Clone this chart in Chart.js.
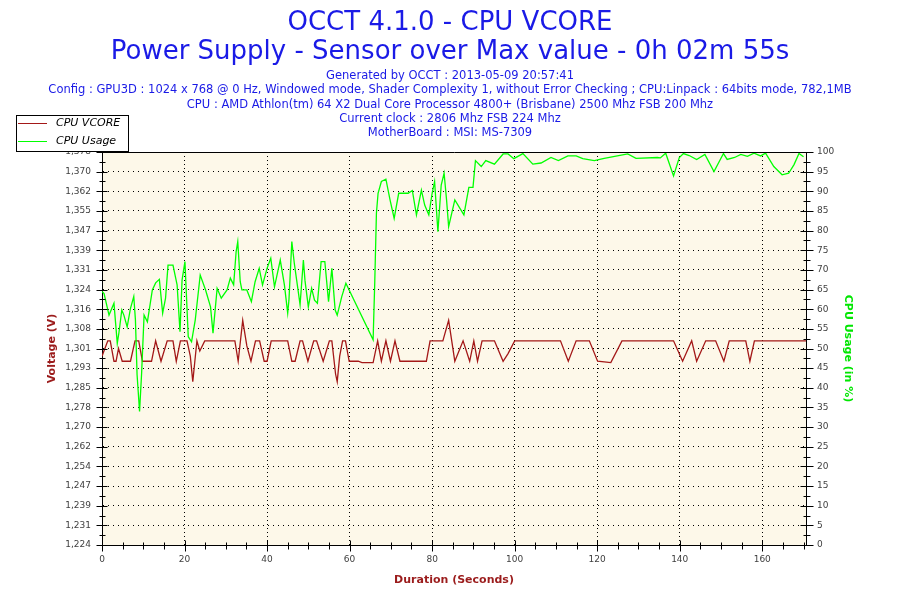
<!DOCTYPE html>
<html>
<head>
<meta charset="UTF-8">
<title>OCCT 4.1.0 - CPU VCORE</title>
<script src="https://cdn.jsdelivr.net/npm/chart.js@4.4.1/dist/chart.umd.min.js"></script>
<style>
  html, body { margin: 0; padding: 0; background: #ffffff; }
  #wrap { width: 900px; height: 600px; }
</style>
</head>
<body>
<div id="wrap"><canvas id="occtChart" width="900" height="600"></canvas></div>
<script>
// Textos do cabecalho
const titleLines = [
  'OCCT 4.1.0 - CPU VCORE',
  'Power Supply - Sensor over Max value - 0h 02m 55s'
];
const infoLines = [
  'Generated by OCCT : 2013-05-09 20:57:41',
  'Config : GPU3D : 1024 x 768 @ 0 Hz, Windowed mode, Shader Complexity 1, without Error Checking ; CPU:Linpack : 64bits mode, 782,1MB',
  'CPU : AMD Athlon(tm) 64 X2 Dual Core Processor 4800+ (Brisbane) 2500 Mhz FSB 200 Mhz',
  'Current clock : 2806 Mhz FSB 224 Mhz',
  'MotherBoard : MSI: MS-7309'
];

// Eixos
const voltLabels = ['1,224', '1,231', '1,239', '1,247', '1,254', '1,262', '1,270', '1,278', '1,285', '1,293',
  '1,301', '1,308', '1,316', '1,324', '1,331', '1,339', '1,347', '1,355', '1,362', '1,370', '1,378'];
const voltMin = 1.224;
const voltMax = 1.378;
const timeTicks = [0, 20, 40, 60, 80, 100, 120, 140, 160];
const timeMax = 170.6;

// Serie CPU VCORE (segundos / volts)
const vcoreTime = [0, 1.4, 2, 2.9, 3.4, 4, 4.9, 6.9, 8, 8.9, 9.8, 12, 13, 14.3, 15.8, 17.2, 18, 19, 20.6, 21.4,
  22, 22.5, 23, 23.7, 24.9, 32.2, 33, 34.1, 35.1, 36.1, 37.2, 38.2, 39.3, 40, 41, 45, 46, 46.8, 48, 48.6,
  49.9, 51.3, 52, 53.6, 55.1, 55.7, 56.6, 57, 57.6, 58.3, 59, 59.9, 62.1, 63, 65.7, 66.8, 67.7, 68.8, 69.9, 71,
  72.2, 78.6, 79.5, 82.6, 84, 85.5, 87.5, 89.1, 90.1, 91, 92.1, 95.1, 97.2, 98.4, 100, 111.1, 113, 114.9, 118.1, 120.1,
  123.3, 126, 138.5, 140.7, 142.9, 144.1, 146.3, 148.7, 150.7, 152, 156, 157, 158.1, 170.6];
const vcoreVolts = [1.298, 1.304, 1.304, 1.296, 1.296, 1.301, 1.296, 1.296, 1.304, 1.304, 1.296, 1.296, 1.304, 1.296, 1.304, 1.304, 1.296, 1.304, 1.304, 1.298,
  1.288, 1.296, 1.304, 1.300, 1.304, 1.304, 1.296, 1.312, 1.302, 1.296, 1.304, 1.304, 1.296, 1.296, 1.304, 1.304, 1.296, 1.296, 1.304, 1.304,
  1.296, 1.304, 1.304, 1.296, 1.304, 1.304, 1.291, 1.288, 1.298, 1.304, 1.304, 1.296, 1.296, 1.2955, 1.2955, 1.304, 1.296, 1.304, 1.296, 1.304,
  1.296, 1.296, 1.304, 1.304, 1.312, 1.296, 1.304, 1.296, 1.304, 1.296, 1.304, 1.304, 1.296, 1.299, 1.304, 1.304, 1.296, 1.304, 1.304, 1.296,
  1.2955, 1.304, 1.304, 1.296, 1.304, 1.296, 1.304, 1.304, 1.296, 1.304, 1.304, 1.296, 1.304, 1.304];

// Serie CPU Usage (segundos / %)
const usageTime = [0, 0.5, 1.7, 2.9, 3.7, 4.1, 4.8, 5.3, 6.1, 6.9, 7.7, 8.1, 8.5, 9.1, 9.6, 10.2, 11, 12.2, 13, 13.9,
  14.7, 15.4, 16, 17.2, 18.2, 18.9, 19.4, 20.1, 20.9, 21.7, 22.6, 23.8, 25.1, 26.3, 26.9, 27.9, 28.9, 30.3, 31.1, 31.9,
  32.5, 32.9, 33.5, 33.9, 35.1, 36.2, 37.1, 38.1, 38.9, 40, 40.9, 41.8, 43.2, 44.2, 45, 45.3, 46, 46.6, 47.4, 48,
  48.8, 49.2, 50, 50.8, 51.5, 52.2, 53.1, 54, 54.9, 55.7, 56.5, 57, 58.1, 59.1, 65.7, 66.1, 66.5, 66.9, 67.7, 68.8,
  69.8, 70.8, 71.9, 74.2, 75.2, 76.2, 77.4, 78.2, 79.2, 80, 80.6, 81.4, 82.2, 82.9, 83.5, 84, 85.5, 87.7, 88.9, 89.9,
  90.5, 91.9, 93, 95.1, 97.2, 98.4, 99.8, 102, 104.4, 106.4, 108.8, 110.6, 112.9, 114.9, 116.5, 119.3, 121.7, 127.4, 129.4, 134.6,
  135.3, 136.6, 138.5, 139.9, 140.9, 142.3, 144.1, 146.1, 148.3, 150.6, 151.5, 153.3, 154.8, 156.4, 158, 159.6, 160.8, 162.8, 164.8, 166.4,
  167.7, 168.9, 170];
const usagePct = [64.5, 64, 58.5, 61.5, 51.3, 54, 59.8, 58.5, 55.5, 60.2, 63.2, 57.3, 43.3, 34, 43.7, 58.5, 56.8, 64.9, 66.7, 67.6,
  59, 62.8, 71.2, 71.2, 66.2, 54.3, 67.4, 72.1, 53, 51.7, 57.3, 68.7, 64.9, 60.6, 53.9, 65.3, 62.8, 64.9, 67.9, 66.2,
  74.6, 77.2, 67, 64.9, 64.9, 61.9, 67, 70.4, 66.2, 70.4, 73, 65.7, 72.5, 66.2, 59, 62.3, 77.2, 71.7, 65.7, 61.1,
  72.5, 67.2, 60.6, 65.3, 62.3, 61.5, 72.1, 72.1, 61.9, 70.4, 59.8, 58.5, 63.2, 66.6, 52.2, 67, 84.4, 89.5, 92.5, 93.1,
  87.8, 83.1, 89.5, 89.5, 90.2, 84, 90.3, 86.5, 84, 89.5, 92.5, 79.7, 91.6, 94.6, 87.8, 81, 87.8, 84, 91, 91,
  97.8, 96.3, 97.8, 96.9, 99.5, 99.5, 98.3, 99.6, 96.9, 97.2, 98.6, 97.8, 99, 99, 98.3, 97.8, 98.4, 99.5, 98.4, 98.6,
  98.5, 99.7, 93.9, 98.6, 99.6, 99.1, 98.1, 99.4, 95, 99.6, 98.1, 98.6, 99.4, 98.9, 99.7, 99, 99.7, 96.3, 94.2, 94.6,
  96.8, 99.6, 98.8];

const fontFamily = "'DejaVu Sans', sans-serif";
const titleBlue = '#1a1ae6';
const axisRed = '#9b1c1c';
const vcoreColor = '#a31818';
const usageColor = '#00ff00';
const tickColor = '#404040';

Chart.defaults.font.family = fontFamily;

const voltStep = (voltMax - voltMin) / (voltLabels.length - 1);

// Fundo creme da area do grafico
const plotBackground = {
  id: 'plotBackground',
  beforeDraw(chart) {
    const { ctx, chartArea: a } = chart;
    ctx.save();
    ctx.fillStyle = '#ffffff';
    ctx.fillRect(0, 0, chart.width, chart.height);
    ctx.fillStyle = '#fdf8e9';
    ctx.fillRect(a.left, a.top, a.right - a.left, a.bottom - a.top);
    ctx.restore();
  }
};

// Borda superior e marcas (maiores e menores) nos eixos
const axisMarks = {
  id: 'axisMarks',
  afterDatasetsDraw(chart) {
    const { ctx, chartArea: a, scales } = chart;
    const px = v => Math.round(v) + 0.5;
    ctx.save();
    ctx.strokeStyle = '#000';
    ctx.lineWidth = 1;
    ctx.beginPath();
    ctx.moveTo(a.left, px(a.top));
    ctx.lineTo(a.right + 1, px(a.top));

    const xl = px(a.left);
    for (let i = 0; i < voltLabels.length; i++) {
      const y = px(scales.yV.getPixelForValue(voltMin + i * voltStep));
      ctx.moveTo(xl - 6, y); ctx.lineTo(xl + 5, y);
      if (i < voltLabels.length - 1) {
        const ym = px(scales.yV.getPixelForValue(voltMin + (i + 0.5) * voltStep));
        ctx.moveTo(xl - 3, ym); ctx.lineTo(xl + 3, ym);
      }
    }

    const xr = px(a.right);
    for (let v = 0; v <= 100; v += 2.5) {
      const y = px(scales.yP.getPixelForValue(v));
      const len = v % 5 === 0 ? 6 : 3;
      ctx.moveTo(xr - len, y); ctx.lineTo(xr + len + 1, y);
    }

    const yb = px(a.bottom);
    for (let t = 0; t <= timeMax; t += 5) {
      const x = px(scales.x.getPixelForValue(t));
      const len = t % 20 === 0 ? 5 : 3;
      ctx.moveTo(x, yb - len); ctx.lineTo(x, yb + len + 1);
    }
    ctx.stroke();
    ctx.restore();
  }
};

// Legenda em caixa no canto superior esquerdo
const boxLegend = {
  id: 'boxLegend',
  afterDraw(chart) {
    const ctx = chart.ctx;
    ctx.save();
    ctx.fillStyle = '#ffffff';
    ctx.fillRect(16, 115, 113, 37);
    ctx.strokeStyle = '#000';
    ctx.lineWidth = 1;
    ctx.strokeRect(16.5, 115.5, 112, 36);
    ctx.font = 'italic 11px ' + fontFamily;
    ctx.textBaseline = 'middle';
    chart.data.datasets.forEach((ds, i) => {
      const y = 123.5 + i * 18;
      ctx.strokeStyle = ds.borderColor;
      ctx.beginPath();
      ctx.moveTo(18, y);
      ctx.lineTo(47, y);
      ctx.stroke();
      ctx.fillStyle = '#000';
      ctx.fillText(ds.label, 56, y);
    });
    ctx.restore();
  }
};

const ctx = document.getElementById('occtChart').getContext('2d');
new Chart(ctx, {
  type: 'line',
  data: {
    datasets: [{
      label: 'CPU VCORE',
      data: vcoreTime.map((t, i) => ({ x: t, y: vcoreVolts[i] })),
      yAxisID: 'yV',
      borderColor: vcoreColor,
      borderWidth: 1.3,
      pointRadius: 0,
      tension: 0,
      fill: false,
      order: 2
    }, {
      label: 'CPU Usage',
      data: usageTime.map((t, i) => ({ x: t, y: usagePct[i] })),
      yAxisID: 'yP',
      borderColor: usageColor,
      borderWidth: 1.3,
      pointRadius: 0,
      tension: 0,
      fill: false,
      order: 1
    }]
  },
  options: {
    responsive: false,
    animation: false,
    layout: { padding: 0 },
    plugins: {
      legend: { display: false },
      tooltip: { enabled: false },
      title: {
        display: true,
        text: titleLines,
        color: titleBlue,
        font: { family: fontFamily, size: 26, weight: 'normal', lineHeight: '29px' },
        padding: { top: 9, bottom: 1 }
      },
      subtitle: {
        display: true,
        text: infoLines,
        color: titleBlue,
        font: { family: fontFamily, size: 11.5, weight: 'normal', lineHeight: '14.3px' },
        padding: { top: 1, bottom: 11.5 }
      }
    },
    scales: {
      x: {
        type: 'linear',
        min: 0,
        max: timeMax,
        afterBuildTicks: s => { s.ticks = timeTicks.map(v => ({ value: v })); },
        afterFit: s => { s.height = 55; },
        grid: { color: '#000', lineWidth: 1, drawTicks: false },
        border: { display: true, color: '#000', width: 1, dash: [1, 3] },
        ticks: { padding: 9, color: tickColor, font: { size: 9 }, maxRotation: 0, autoSkip: false },
        title: {
          display: true,
          text: 'Duration (Seconds)',
          color: axisRed,
          font: { size: 11, weight: 'bold', lineHeight: 1.2 },
          padding: { top: 0, bottom: 13.4 }
        }
      },
      yV: {
        type: 'linear',
        position: 'left',
        min: voltMin,
        max: voltMax,
        afterBuildTicks: s => { s.ticks = voltLabels.map((l, i) => ({ value: voltMin + i * voltStep })); },
        afterFit: s => { s.width = 102; },
        grid: { color: '#000', lineWidth: 1, drawTicks: false },
        border: { display: true, color: '#000', width: 1, dash: [1, 4] },
        ticks: { padding: 11, color: tickColor, font: { size: 9 }, autoSkip: false, callback: (v, i) => voltLabels[i] },
        title: {
          display: true,
          text: 'Voltage (V)',
          color: axisRed,
          font: { size: 11, weight: 'bold', lineHeight: 1.2 },
          padding: { top: 45.4, bottom: 0 }
        }
      },
      yP: {
        type: 'linear',
        position: 'right',
        min: 0,
        max: 100,
        afterFit: s => { s.width = 94; },
        grid: { drawOnChartArea: false, drawTicks: false },
        border: { display: true, color: '#000', width: 1 },
        ticks: { stepSize: 5, padding: 11, color: tickColor, font: { size: 9 }, autoSkip: false },
        title: {
          display: true,
          text: 'CPU Usage (in %)',
          color: '#00e600',
          font: { size: 11, weight: 'bold', lineHeight: 1.2 },
          padding: { top: 45.4, bottom: 0 }
        }
      }
    }
  },
  plugins: [plotBackground, axisMarks, boxLegend]
});
</script>
</body>
</html>
